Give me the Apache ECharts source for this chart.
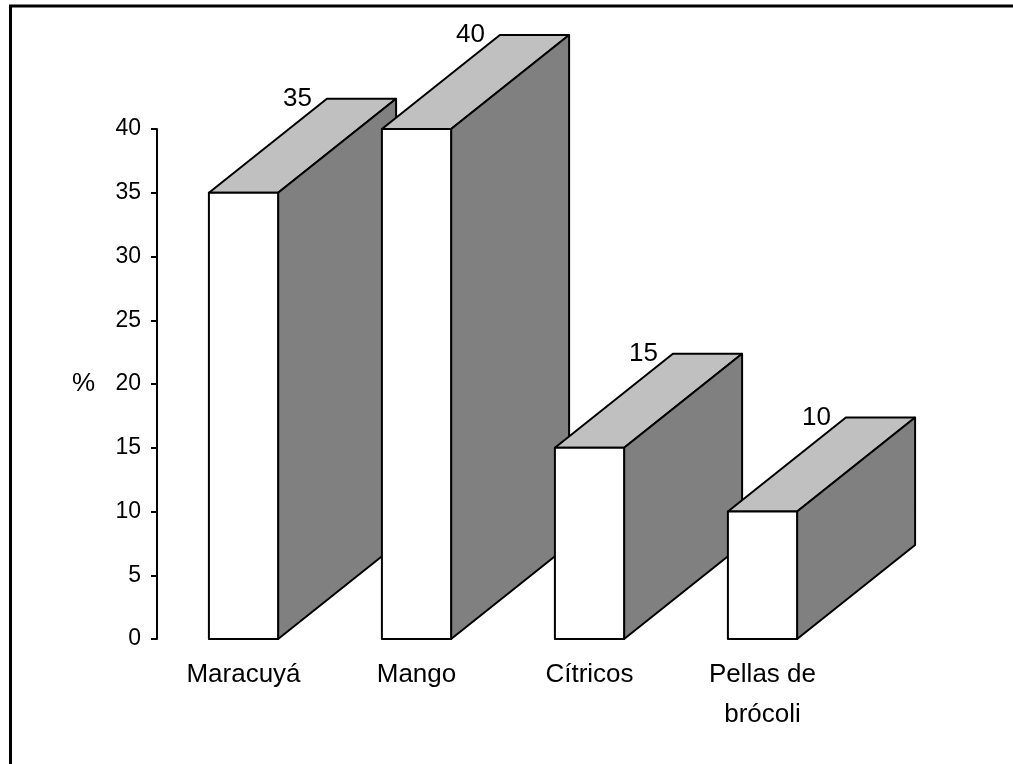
<!DOCTYPE html>
<html>
<head>
<meta charset="utf-8">
<script src="https://cdn.jsdelivr.net/npm/echarts@6/dist/echarts.min.js"></script>
<style>
  html, body { margin: 0; padding: 0; background: #fff; }
  #chart { width: 1013px; height: 764px; }
</style>
</head>
<body>
<div id="chart"></div>
<script>
// Categories and percentages
const categories = ['Maracuyá', 'Mango', 'Cítricos', 'Pellas de\nbrócoli'];
const values = [35, 40, 15, 10];
const yMin = 0;
const yMax = 40;
const yStep = 5;

// Oblique depth of each block, in pixels
const DEPTH_X = 118;
const DEPTH_Y = -94;
const FONT = 'Liberation Sans, Arial, sans-serif';

function renderBlock(params, api) {
  const idx = api.value(0);
  const val = api.value(1);
  const base = api.coord([idx, 0]);
  const top = api.coord([idx, val]);
  const band = api.size([1, 0])[0];
  const w = band * 0.4;
  const x0 = base[0] - w / 2;
  const x1 = x0 + w;
  const yb = base[1];
  const yt = top[1];
  const stroke = { stroke: '#000', lineWidth: 2, lineJoin: 'round' };
  return {
    type: 'group',
    children: [
      {
        type: 'polygon',
        shape: { points: [[x0, yt], [x1, yt], [x1 + DEPTH_X, yt + DEPTH_Y], [x0 + DEPTH_X, yt + DEPTH_Y]] },
        style: Object.assign({ fill: '#C0C0C0' }, stroke)
      },
      {
        type: 'polygon',
        shape: { points: [[x1, yt], [x1 + DEPTH_X, yt + DEPTH_Y], [x1 + DEPTH_X, yb + DEPTH_Y], [x1, yb]] },
        style: Object.assign({ fill: '#808080' }, stroke)
      },
      {
        type: 'rect',
        shape: { x: x0, y: yt, width: w, height: yb - yt },
        style: Object.assign({ fill: '#FFFFFF' }, stroke)
      },
      {
        type: 'text',
        style: {
          text: String(val),
          x: x0 + DEPTH_X - 15,
          y: yt + DEPTH_Y,
          align: 'right',
          verticalAlign: 'middle',
          font: '26px ' + FONT,
          fill: '#000'
        }
      }
    ]
  };
}

const chart = echarts.init(document.getElementById('chart'), null, { renderer: 'canvas' });
chart.setOption({
  animation: false,
  backgroundColor: '#fff',
  grid: { left: 157, top: 129, width: 692, bottom: 125, containLabel: false },
  xAxis: {
    type: 'category',
    data: categories,
    axisLine: { show: false },
    axisTick: { show: false },
    axisLabel: {
      color: '#000',
      fontFamily: FONT,
      fontSize: 26,
      lineHeight: 40,
      margin: 16,
      interval: 0
    }
  },
  yAxis: {
    type: 'value',
    min: yMin,
    max: yMax,
    interval: yStep,
    splitLine: { show: false },
    axisLine: { show: true, lineStyle: { color: '#000', width: 2 } },
    axisTick: { show: true, length: 6, lineStyle: { color: '#000', width: 2 } },
    axisLabel: { color: '#000', fontFamily: FONT, fontSize: 23, margin: 16 }
  },
  graphic: [
    {
      type: 'rect',
      shape: { x: 10.5, y: 6, width: 1100, height: 900 },
      style: { fill: 'none', stroke: '#000', lineWidth: 3 },
      silent: true
    },
    {
      type: 'text',
      left: 72,
      top: 371,
      style: { text: '%', font: '26px ' + FONT, fill: '#000' }
    }
  ],
  series: [{
    type: 'custom',
    renderItem: renderBlock,
    encode: { x: 0, y: 1 },
    data: values.map((v, i) => [i, v])
  }]
});
</script>
</body>
</html>
